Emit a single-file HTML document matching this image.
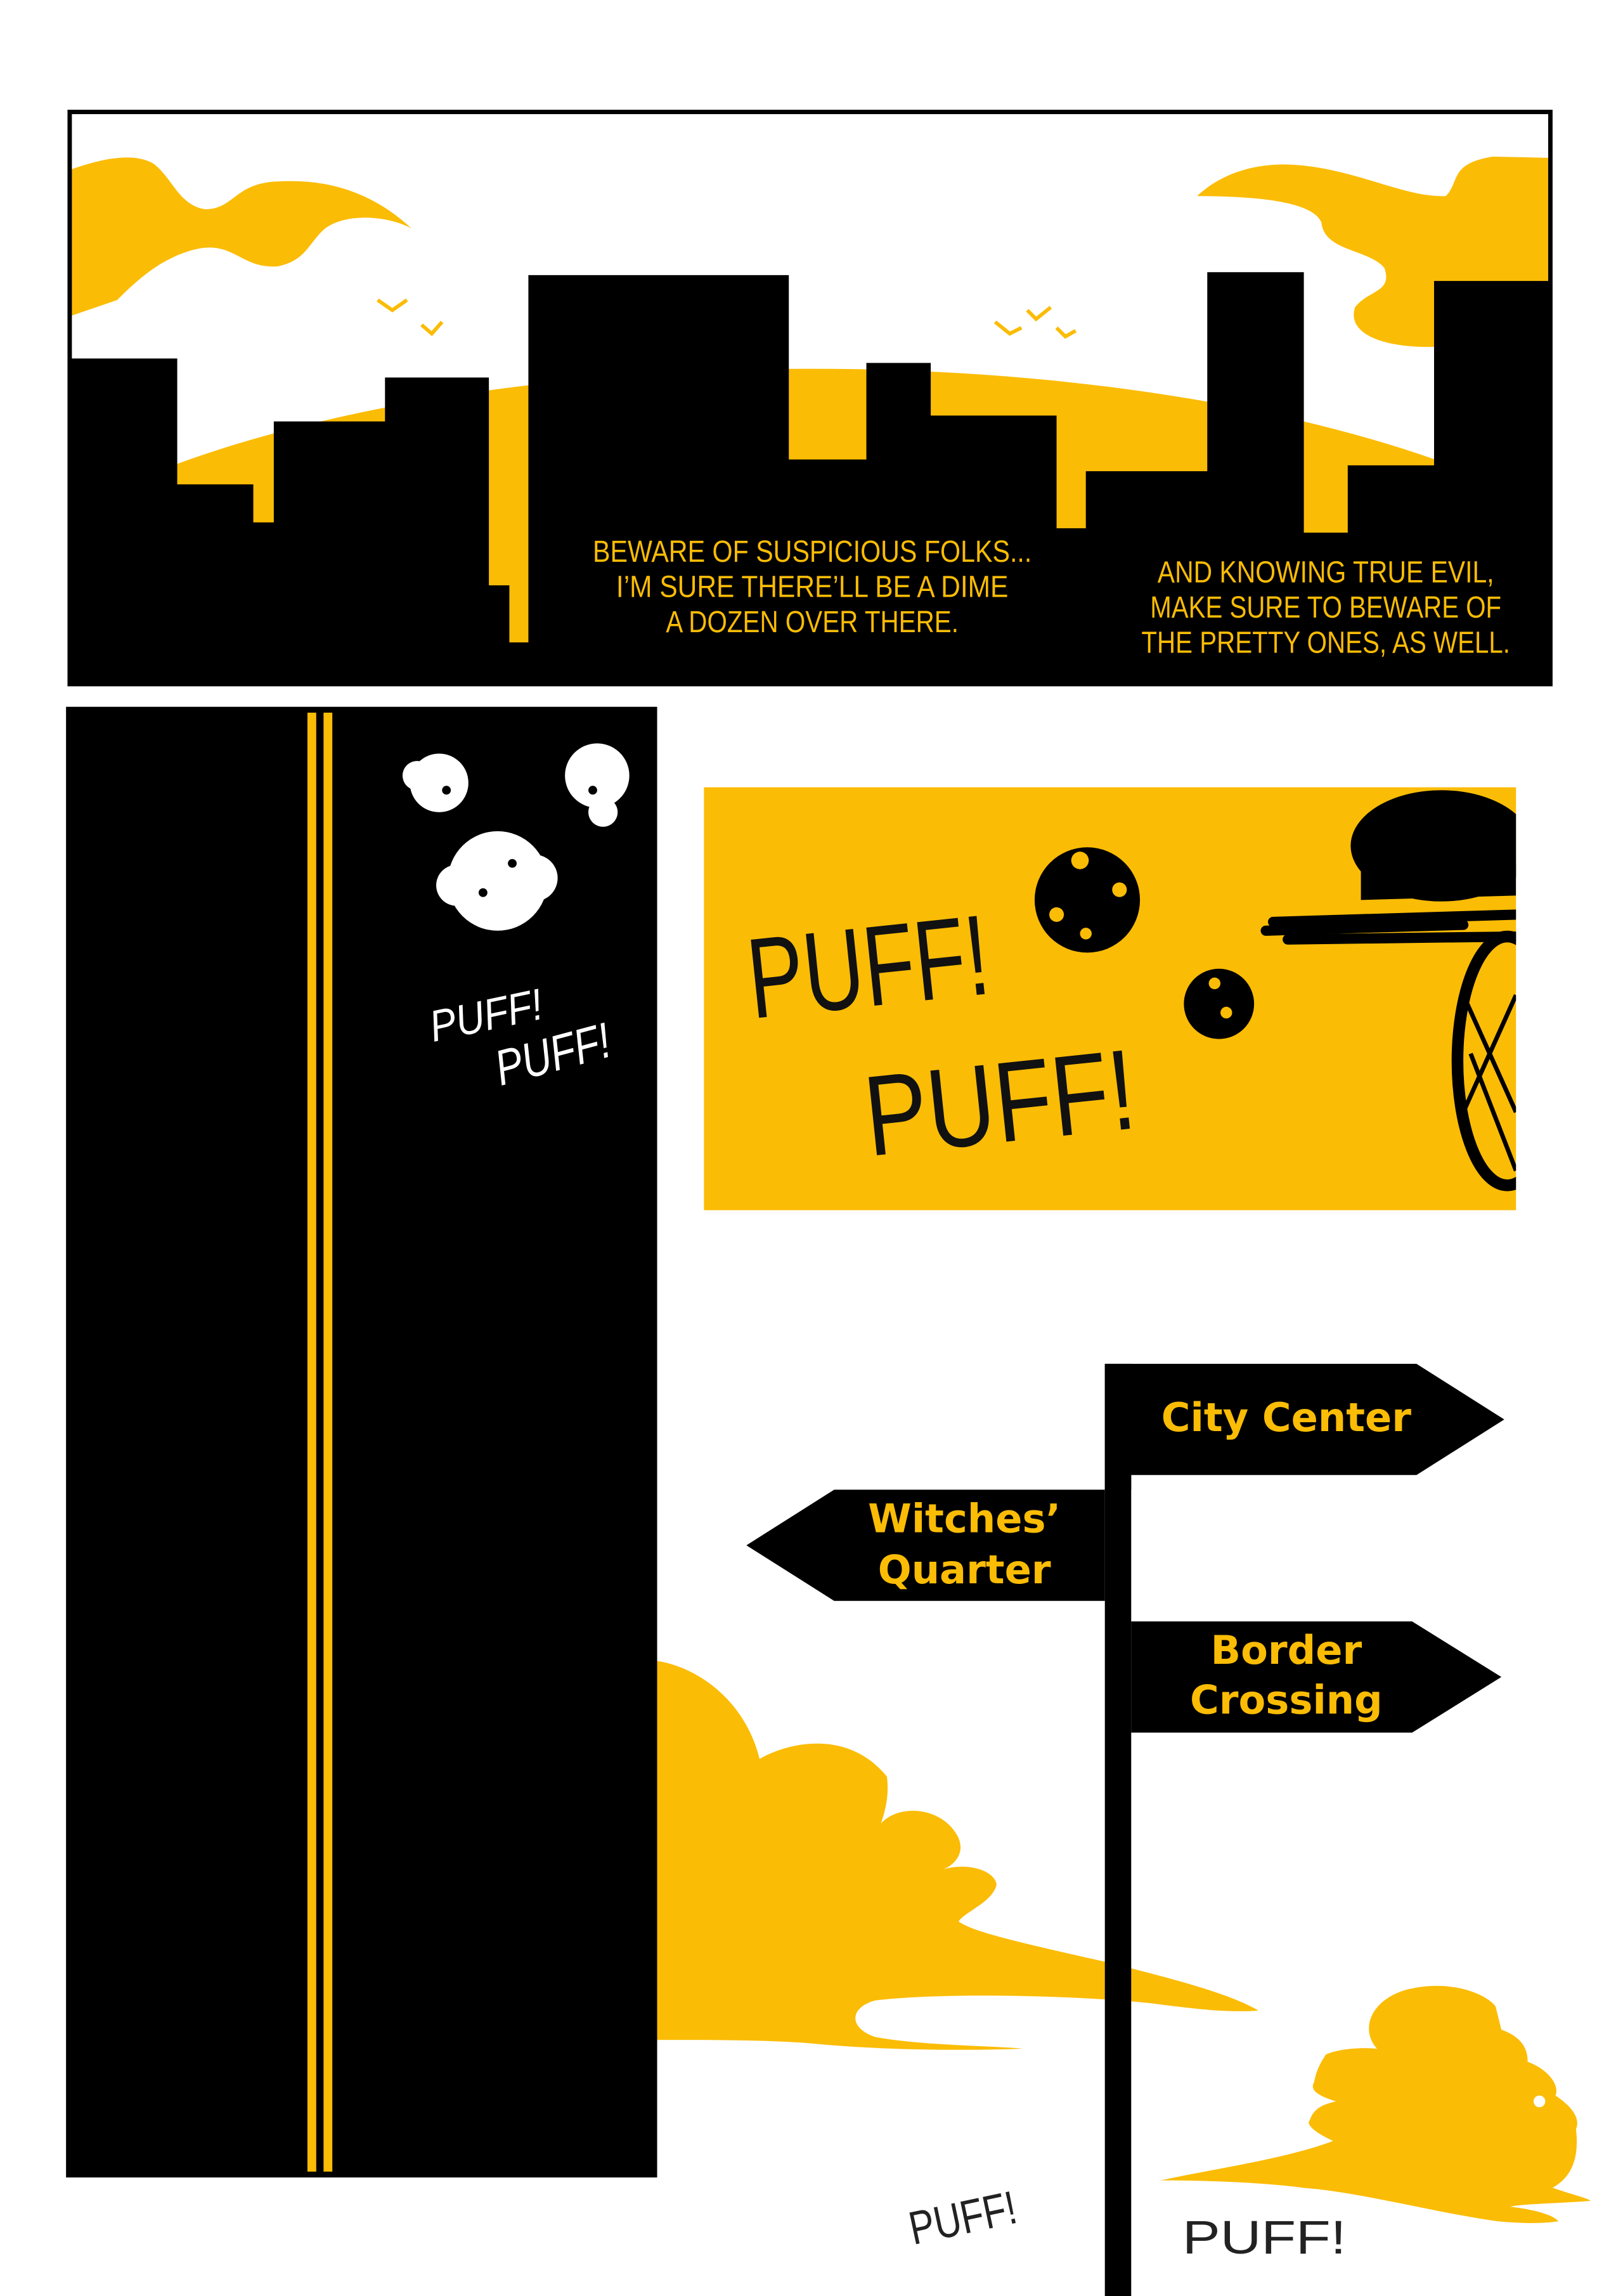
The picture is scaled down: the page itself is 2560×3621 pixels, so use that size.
<!DOCTYPE html>
<html><head><meta charset="utf-8"><style>
html,body{margin:0;padding:0;background:#fff;}
svg{display:block;}
.c{font-family:"Liberation Sans Narrow","Liberation Sans",sans-serif;fill:#FBBC05;}
.s{font-family:"DejaVu Sans","Liberation Sans",sans-serif;font-weight:bold;fill:#FBBC05;}
</style></head><body>
<svg width="2560" height="3621" viewBox="0 0 1109 1569" xmlns="http://www.w3.org/2000/svg">
<defs><clipPath id="tp"><rect x="48" y="77" width="1011" height="390"/></clipPath>
<clipPath id="yp"><rect x="481" y="538" width="555" height="289"/></clipPath></defs>
<rect width="1109" height="1569" fill="#fff"/>
<g clip-path="url(#tp)">
<rect x="48" y="77" width="1011" height="390" fill="#fff"/>
<ellipse cx="555" cy="462" rx="600" ry="210" fill="#FBBC05"/>
<path fill="#FBBC05" d="M48,116 C70,108 92,104 105,112 C118,122 122,140 140,143 C160,143 160,125 190,124 C225,122 255,132 281,156 C262,146 232,146 220,158 C210,168 208,178 190,182 C165,184 160,165 135,170 C112,175 95,190 80,205 L48,216 Z"/>
<path fill="#FBBC05" d="M818,134 C835,118 860,110 889,113 C930,117 960,135 988,134 C998,124 990,112 1020,107 L1064,108 L1064,237 L981,237 C945,238 920,228 926,210 C935,198 952,200 946,183 C935,170 905,172 903,152 C898,140 870,134 818,134 Z"/>
<path fill="#000" d="M48,468 L48,245 L121,245 L121,331 L173,331 L173,357 L187,357 L187,288 L263,288 L263,258 L334,258 L334,400 L348,400 L348,439 L361,439 L361,188 L539,188 L539,314 L592,314 L592,248 L636,248 L636,284 L722,284 L722,361 L742,361 L742,322 L825,322 L825,186 L891,186 L891,364 L921,364 L921,318 L980,318 L980,192 L1064,192 L1064,468 Z"/>
<g stroke="#FBBC05" stroke-width="2.5" fill="none">
<path d="M258,205 L268,212 L278,205"/><path d="M288,222 L295,228 L302,220"/>
<path d="M680,220 L690,228 L698,224"/><path d="M702,212 L708,218 L718,210"/><path d="M722,224 L728,230 L735,226"/>
</g>
</g>
<rect x="47.5" y="76.5" width="1012" height="391" fill="none" stroke="#000" stroke-width="3"/>
<g class="c" font-size="21" text-anchor="middle" lengthAdjust="spacingAndGlyphs">
<text x="555" y="384" textLength="300" lengthAdjust="spacingAndGlyphs">BEWARE OF SUSPICIOUS FOLKS...</text>
<text x="555" y="408" textLength="268" lengthAdjust="spacingAndGlyphs">I’M SURE THERE’LL BE A DIME</text>
<text x="555" y="432" textLength="200" lengthAdjust="spacingAndGlyphs">A DOZEN OVER THERE.</text>
<text x="906" y="398" textLength="230" lengthAdjust="spacingAndGlyphs">AND KNOWING TRUE EVIL,</text>
<text x="906" y="422" textLength="240" lengthAdjust="spacingAndGlyphs">MAKE SURE TO BEWARE OF</text>
<text x="906" y="446" textLength="252" lengthAdjust="spacingAndGlyphs">THE PRETTY ONES, AS WELL.</text>
</g>
<rect x="45" y="483" width="404" height="1005" fill="#000"/>
<rect x="210" y="487" width="6" height="997" fill="#FBBC05"/>
<rect x="221" y="487" width="6" height="997" fill="#FBBC05"/>
<g fill="#fff">
<circle cx="300" cy="535" r="20"/><circle cx="285" cy="530" r="10"/>
<circle cx="408" cy="530" r="22"/><circle cx="412" cy="555" r="10"/>
<circle cx="340" cy="602" r="34"/><circle cx="312" cy="605" r="14"/><circle cx="365" cy="600" r="16"/>
</g>
<g fill="#000"><circle cx="305" cy="540" r="3"/><circle cx="405" cy="540" r="3"/><circle cx="330" cy="610" r="3"/><circle cx="350" cy="590" r="3"/></g>
<g font-family="Liberation Sans,sans-serif" font-style="italic" fill="#fff" font-size="30">
<text x="296" y="712" textLength="78" lengthAdjust="spacingAndGlyphs" transform="rotate(-12 296 712)">PUFF!</text>
<text x="342" y="742" font-size="34" textLength="80" lengthAdjust="spacingAndGlyphs" transform="rotate(-15 342 742)">PUFF!</text>
</g>
<rect x="481" y="538" width="555" height="289" fill="#FBBC05"/>
<g clip-path="url(#yp)">
<g font-family="Liberation Sans,sans-serif" fill="#111" font-size="78">
<text x="514" y="696" textLength="165" lengthAdjust="spacingAndGlyphs" transform="rotate(-6 514 696)">PUFF!</text>
<text x="594" y="790" textLength="185" lengthAdjust="spacingAndGlyphs" transform="rotate(-6 594 790)">PUFF!</text>
</g>
<circle cx="743" cy="615" r="36" fill="#000"/><circle cx="738" cy="588" r="6" fill="#FBBC05"/><circle cx="765" cy="608" r="5" fill="#FBBC05"/><circle cx="722" cy="625" r="5" fill="#FBBC05"/><circle cx="742" cy="638" r="4" fill="#FBBC05"/>
<circle cx="833" cy="686" r="24" fill="#000"/><circle cx="830" cy="672" r="4" fill="#FBBC05"/><circle cx="838" cy="692" r="4" fill="#FBBC05"/>
<ellipse cx="985" cy="578" rx="62" ry="38" fill="#000"/>
<path d="M930,595 L1036,590 L1036,612 L930,615 Z" fill="#000"/>
<g stroke="#000" stroke-width="7" stroke-linecap="round"><line x1="870" y1="630" x2="1036" y2="625"/><line x1="880" y1="642" x2="1036" y2="640"/><line x1="865" y1="636" x2="1000" y2="632"/></g>
<ellipse cx="1030" cy="725" rx="34" ry="85" fill="none" stroke="#000" stroke-width="8"/>
<g stroke="#000" stroke-width="3"><line x1="1000" y1="680" x2="1036" y2="760"/><line x1="1000" y1="760" x2="1036" y2="680"/><line x1="1005" y1="720" x2="1036" y2="800"/></g>
</g>
<path fill="#FBBC05" d="M449,1135 C480,1140 510,1165 519,1202 C540,1190 580,1182 606,1214 C608,1228 604,1240 602,1246 C615,1232 645,1235 655,1256 C660,1268 650,1276 643,1278 C660,1272 680,1278 681,1288 C678,1300 660,1306 655,1313 C665,1320 690,1326 757,1341 C800,1352 840,1362 860,1374 C830,1376 800,1370 777,1368 C720,1363 640,1362 598,1367 C580,1372 580,1386 598,1392 C630,1398 680,1398 699,1400 C640,1402 590,1400 550,1396 C520,1394 490,1394 449,1394 Z"/>
<path fill="#FBBC05" d="M941,1400 C930,1388 935,1368 960,1360 C990,1352 1015,1362 1022,1371 L1026,1387 C1040,1392 1044,1400 1044,1409 C1058,1414 1066,1425 1063,1432 C1075,1440 1080,1448 1077,1455 C1080,1480 1070,1490 1061,1495 C1075,1500 1085,1502 1087,1504 C1060,1506 1040,1506 1032,1508 C1050,1510 1062,1514 1065,1518 C1050,1520 1035,1519 1024,1518 C980,1512 930,1498 890,1495 C860,1491 820,1490 793,1490 C830,1482 880,1475 911,1463 C900,1458 892,1452 895,1449 C898,1440 905,1438 913,1436 C900,1432 895,1428 898,1423 C900,1412 905,1406 906,1404 C915,1400 930,1399 941,1400 Z"/>
<circle cx="1052" cy="1436" r="4" fill="#fff"/>
<rect x="755" y="932" width="18" height="637" fill="#000"/>
<path d="M755,932 L968,932 L1028,970 L968,1008 L773,1008 L773,1018 L755,1018 Z" fill="#000"/>
<path d="M755,1018 L570,1018 L510,1056 L570,1094 L755,1094 Z" fill="#000"/>
<path d="M773,1108 L965,1108 L1026,1146 L965,1184 L773,1184 Z" fill="#000"/>
<g class="s" font-size="27" text-anchor="middle">
<text x="879" y="978">City Center</text>
<text x="659" y="1047">Witches’</text>
<text x="659" y="1082">Quarter</text>
<text x="879" y="1137">Border</text>
<text x="879" y="1171">Crossing</text>
</g>
<g font-family="Liberation Sans,sans-serif" fill="#222" font-size="32">
<text x="624" y="1534" textLength="74" lengthAdjust="spacingAndGlyphs" transform="rotate(-12 624 1534)">PUFF!</text>
<text x="808" y="1540" textLength="112" lengthAdjust="spacingAndGlyphs">PUFF!</text>
</g>
</svg>
</body></html>
